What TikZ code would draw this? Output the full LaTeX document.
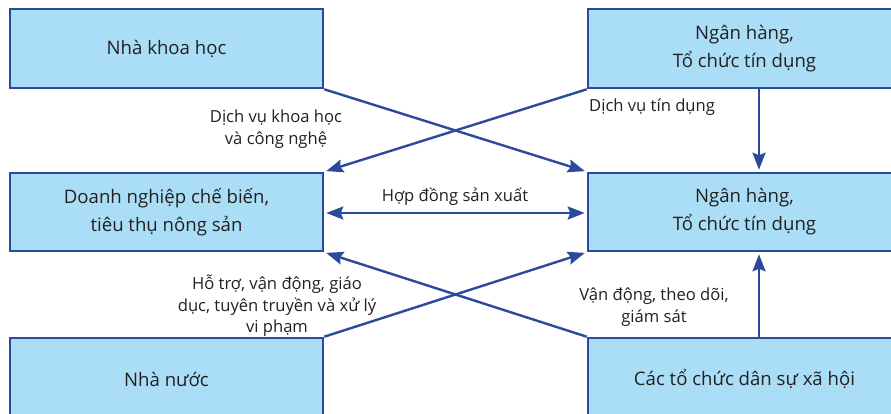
\documentclass[tikz,border=0pt]{standalone}
\usepackage{fontspec}
\setmainfont{Open Sans}
\usetikzlibrary{arrows.meta,calc}
\definecolor{boxline}{RGB}{43,74,155}
\definecolor{boxfill}{RGB}{170,222,247}
\definecolor{txt}{RGB}{35,31,32}
\begin{document}
\begin{tikzpicture}[x=1pt,y=1pt,
  box/.style={draw=boxline,fill=boxfill,line width=2.6pt,minimum width=313pt,text=txt,align=center,font=\fontsize{18.6}{28}\selectfont,inner sep=0pt},
  lab/.style={text=txt,align=center,font=\fontsize{16.6}{21.5}\selectfont,inner sep=0pt},
  tip/.style={Stealth[length=17pt,width=13pt,inset=2.5pt]},
  arr/.style={draw=boxline,line width=2.4pt,-{Stealth[length=17pt,width=13pt,inset=2.5pt]},shorten >=2pt},
  darr/.style={draw=boxline,line width=2.4pt,{Stealth[length=17pt,width=13pt,inset=2.5pt]}-{Stealth[length=17pt,width=13pt,inset=2.5pt]},shorten >=2pt,shorten <=2pt}]
\useasboundingbox (0,0) rectangle (891,-414);
\clip (0,0) rectangle (891,-414);
\node[box,minimum height=79pt] (nkh) at (166.5,-48.5) {Nhà khoa học};
\node[box,minimum height=79pt] (nh1) at (744.5,-48.5) {Ngân hàng,\\Tổ chức tín dụng};
\node[box,minimum height=78pt] (dn) at (166.5,-212) {Doanh nghiệp chế biến,\\tiêu thụ nông sản};
\node[box,minimum height=78pt] (nh2) at (744.5,-212) {Ngân hàng,\\Tổ chức tín dụng};
\node[box,minimum height=82pt] (nn) at (166.5,-379) {Nhà nước};
\node[box,minimum height=82pt] (ct) at (744.5,-379) {Các tổ chức dân sự xã hội};
\coordinate (vx) at (759,0);
\draw[arr] (nkh.south east) -- (nh2.north west);
\draw[arr] (nh1.south west) -- (dn.north east);
\draw[arr] (vx |- nh1.south) -- (vx |- nh2.north);
\draw[darr] ([yshift=-1pt]dn.east) -- ([yshift=-1pt]nh2.west);
\draw[arr] (nn.north east) -- (nh2.south west);
\draw[arr] (ct.north west) -- (dn.south east);
\draw[arr] (vx |- ct.north) -- (vx |- nh2.south);
\node[lab] (l1) at (276,-129) {Dịch vụ khoa học\\và công nghệ};
\node[lab,anchor=west] (l2) at (589,-107) {Dịch vụ tín dụng};
\node[lab] (l3) at (455,-197) {Hợp đồng sản xuất};
\node[lab] (l4) at (277,-306) {Hỗ trợ, vận động, giáo\\dục, tuyên truyền và xử lý\\vi phạm};
\node[lab] (l5) at (654,-307) {Vận động, theo dõi,\\giám sát};
\end{tikzpicture}
\end{document}
